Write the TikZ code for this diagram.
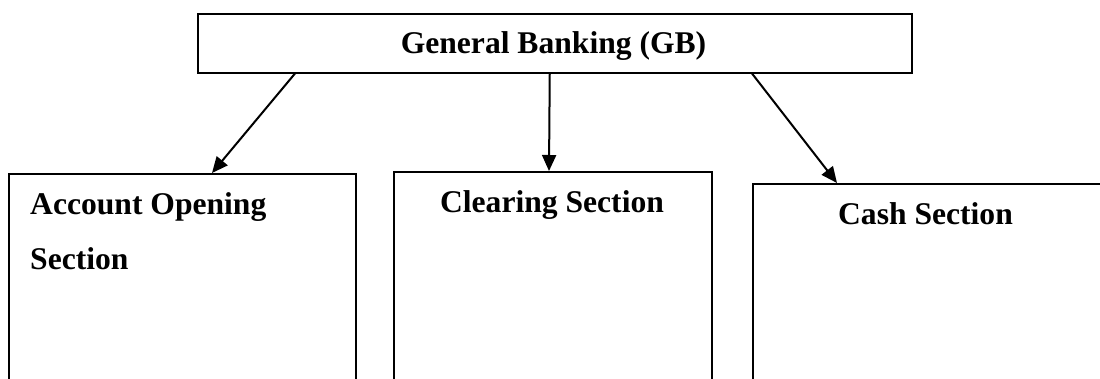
\documentclass[tikz,border=0pt]{standalone}
\usepackage{fontspec}
\setmainfont{Liberation Serif}
\usetikzlibrary{arrows.meta}
\begin{document}
\begin{tikzpicture}[x=1pt,y=-1pt,
  frame/.style={draw, line width=1.5pt, rectangle, inner sep=0pt, anchor=north west},
  label/.style={font=\fontsize{31.6}{55}\selectfont\bfseries, inner sep=0pt},
  link/.style={line width=2pt, -{Triangle[length=16pt,width=14pt]}}]
\useasboundingbox (0,0) rectangle (1100,378);
\clip (0,0) rectangle (1100,378);

% head box
\node[frame, minimum width=714pt, minimum height=59pt] (gb) at (197,13) {};
\node[label, anchor=base] (gbt) at (553.5,53) {General Banking (GB)};

% section boxes, open at the bottom of the page
\node[frame, minimum width=347pt, minimum height=260pt] (acc) at (8,173) {};
\node[frame, minimum width=318pt, minimum height=260pt] (clr) at (393,171) {};
\node[frame, minimum width=400pt, minimum height=260pt] (cash) at (752,183) {};

\node[label, anchor=base west] (acct1) at (30,214) {Account Opening};
\node[label, anchor=base west] (acct2) at (30,269) {Section};
\node[label, anchor=base] (clrt) at (552,212) {Clearing Section};
\node[label, anchor=base] (casht) at (925.5,224) {Cash Section};

% connectors
\draw[link] ([xshift=98pt]gb.south west) -- ([xshift=204pt]acc.north west);
\draw[link] ([xshift=-5pt]gb.south) -- ([xshift=156pt]clr.north west);
\draw[link] ([xshift=555pt]gb.south west) -- ([xshift=85pt]cash.north west);
\end{tikzpicture}
\end{document}
